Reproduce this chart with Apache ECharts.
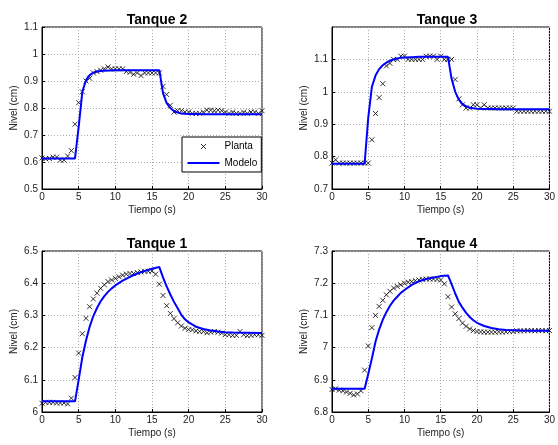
<!DOCTYPE html>
<html>
<head>
<meta charset="utf-8">
<script src="https://cdn.jsdelivr.net/npm/echarts@6/dist/echarts.min.js"></script>
<style>html,body{margin:0;padding:0;background:#fff}#c{width:558px;height:445px}</style>
</head>
<body>
<div id="c"></div>
<script>
// Sample times of the plant measurements (s)
var tPlanta = [0,0.5,1,1.5,2,2.5,3,3.5,4,4.5,5,5.5,6,6.5,7,7.5,8,8.5,9,9.5,10,10.5,11,11.5,12,12.5,13,13.5,14,14.5,15,15.5,16,16.5,17,17.5,18,18.5,19,19.5,20,20.5,21,21.5,22,22.5,23,23.5,24,24.5,25,25.5,26,26.5,27,27.5,28,28.5,29,29.5,30];
// Times of the model curve points (s)
var tModelo = [0,4.5,5,5.5,6,6.5,7,7.5,8,8.5,9,9.5,10,11,12,13,14,15,16,16.5,17,17.5,18,18.5,19,19.5,20,21,22,23,24,25,26,28,30];

var planta2 = [0.615,0.612,0.613,0.618,0.618,0.607,0.607,0.622,0.642,0.74,0.82,0.86,0.90,0.91,0.93,0.935,0.94,0.945,0.952,0.945,0.945,0.945,0.945,0.935,0.932,0.925,0.93,0.92,0.93,0.93,0.93,0.93,0.93,0.88,0.85,0.81,0.785,0.79,0.79,0.785,0.785,0.78,0.78,0.78,0.785,0.792,0.792,0.79,0.792,0.79,0.785,0.78,0.785,0.78,0.78,0.785,0.78,0.785,0.785,0.78,0.79];
var modelo2 = [0.613,0.613,0.73,0.86,0.903,0.922,0.931,0.935,0.937,0.938,0.939,0.939,0.94,0.94,0.94,0.94,0.94,0.94,0.94,0.855,0.818,0.80,0.789,0.783,0.78,0.779,0.778,0.778,0.777,0.777,0.777,0.777,0.777,0.777,0.777];

var planta3 = [0.78,0.79,0.78,0.78,0.78,0.78,0.78,0.78,0.78,0.78,0.78,0.852,0.933,0.982,1.025,1.08,1.088,1.10,1.10,1.11,1.11,1.10,1.10,1.10,1.10,1.10,1.11,1.11,1.11,1.10,1.11,1.10,1.10,1.10,1.038,0.978,0.96,0.95,0.95,0.96,0.96,0.95,0.96,0.95,0.95,0.95,0.95,0.95,0.95,0.95,0.95,0.94,0.94,0.94,0.94,0.94,0.94,0.94,0.94,0.94,0.94];
var modelo3 = [0.778,0.778,0.92,1.015,1.05,1.07,1.082,1.09,1.096,1.10,1.103,1.105,1.106,1.107,1.108,1.108,1.108,1.108,1.108,1.04,1.0,0.976,0.962,0.955,0.951,0.949,0.948,0.947,0.947,0.946,0.946,0.946,0.946,0.946,0.946];

var planta1 = [6.027,6.03,6.03,6.03,6.028,6.028,6.028,6.025,6.043,6.107,6.183,6.243,6.291,6.327,6.351,6.369,6.384,6.395,6.405,6.41,6.415,6.42,6.425,6.428,6.43,6.43,6.433,6.435,6.437,6.437,6.438,6.428,6.397,6.362,6.33,6.306,6.29,6.277,6.267,6.26,6.256,6.255,6.252,6.25,6.25,6.246,6.248,6.25,6.248,6.245,6.24,6.24,6.238,6.238,6.25,6.24,6.237,6.238,6.24,6.24,6.238];
var modelo1 = [6.033,6.033,6.10,6.17,6.222,6.265,6.298,6.323,6.344,6.36,6.373,6.384,6.393,6.408,6.42,6.43,6.438,6.445,6.45,6.418,6.39,6.365,6.342,6.322,6.302,6.288,6.278,6.265,6.258,6.253,6.25,6.248,6.247,6.246,6.245];

var planta4 = [6.87,6.872,6.868,6.866,6.862,6.858,6.853,6.856,6.866,6.93,7.005,7.062,7.10,7.128,7.147,7.164,7.175,7.185,7.19,7.195,7.20,7.203,7.205,7.208,7.21,7.212,7.213,7.213,7.213,7.212,7.21,7.198,7.158,7.126,7.105,7.09,7.076,7.066,7.058,7.053,7.05,7.049,7.048,7.048,7.048,7.048,7.049,7.048,7.049,7.05,7.05,7.052,7.052,7.052,7.053,7.053,7.052,7.053,7.053,7.052,7.053];
var modelo4 = [6.872,6.872,6.918,6.966,7.018,7.056,7.086,7.11,7.13,7.146,7.158,7.17,7.179,7.195,7.206,7.213,7.218,7.222,7.224,7.197,7.168,7.142,7.124,7.108,7.095,7.085,7.077,7.067,7.061,7.057,7.055,7.054,7.053,7.052,7.052];

var titles = ['Tanque 2','Tanque 3','Tanque 1','Tanque 4'];
var yMin = [0.5, 0.7, 6.0, 6.8];
var yMax = [1.1, 1.2, 6.5, 7.3];
var xTicks = [0, 30, 5]; // min, max, interval
var plantas = [planta2, planta3, planta1, planta4];
var modelos = [modelo2, modelo3, modelo1, modelo4];

var FONT = 'Liberation Sans, Arial, Helvetica, sans-serif';
var grids = [
  {left:42, top:27, width:220, height:162},
  {left:332, top:27, width:220, height:162},
  {left:42, top:251, width:220, height:161},
  {left:332, top:251, width:220, height:161}
];
var titleTops = [8, 8, 232, 232];
var titleCenters = [152, 442, 152, 442];

function pairs(t, v){ var out=[]; for (var i=0;i<t.length;i++) out.push([t[i], v[i]]); return out; }

var crossPath = 'path://M0,0L10,10M10,0L0,10';
var legendCross = 'path://M0,0L0.01,0M32,10L32.01,10M13.5,2.5L18.5,7.5M18.5,2.5L13.5,7.5';
var legendLine = 'path://M0,4L32,4L32,6L0,6Z';

var option = {
  animation: false,
  backgroundColor: '#fff',
  textStyle: {fontFamily: FONT},
  title: titles.map(function(s,i){
    return {text:s, left: titleCenters[i], top: titleTops[i], textAlign:'center',
      textStyle:{fontFamily:FONT, fontSize:14, fontWeight:'bold', color:'#000'}};
  }),
  grid: grids.map(function(g){ return Object.assign({show:true, borderColor:'#000', borderWidth:1, backgroundColor:'#fff'}, g); }),
  xAxis: grids.map(function(g,i){
    return {type:'value', gridIndex:i, min:xTicks[0], max:xTicks[1], interval:xTicks[2],
      name:'Tiempo (s)', nameLocation:'middle', nameGap:16,
      nameTextStyle:{fontFamily:FONT, fontSize:10, color:'#222'},
      axisLine:{show:true, onZero:false, lineStyle:{color:'#000', width:1}},
      axisTick:{show:true, inside:true, length:3, lineStyle:{color:'#000'}},
      axisLabel:{fontFamily:FONT, fontSize:10, color:'#222', margin:3},
      splitLine:{show:true, lineStyle:{color:'#aaa', type:[1,2], width:1}}};
  }),
  yAxis: grids.map(function(g,i){
    return {type:'value', gridIndex:i, min:yMin[i], max:yMax[i], interval:0.1,
      name:'Nivel (cm)', nameLocation:'middle', nameGap:23,
      nameTextStyle:{fontFamily:FONT, fontSize:10, color:'#222'},
      axisLine:{show:true, onZero:false, lineStyle:{color:'#000', width:1}},
      axisTick:{show:true, inside:true, length:3, lineStyle:{color:'#000'}},
      axisLabel:{fontFamily:FONT, fontSize:10, color:'#222', margin:4, showMaxLabel: i!==1},
      splitLine:{show:true, lineStyle:{color:'#aaa', type:[1,2], width:1}}};
  }),
  legend: {
    orient:'vertical', left:182, top:137,
    backgroundColor:'#fff', borderColor:'#000', borderWidth:1, borderRadius:0,
    padding:[4,4,4,5], itemGap:6, itemWidth:32, itemHeight:10,
    textStyle:{fontFamily:FONT, fontSize:10, color:'#000'},
    data:[
      {name:'Planta', icon: legendCross, itemStyle:{color:'#000', borderColor:'#000', borderWidth:1}},
      {name:'Modelo', icon: legendLine, itemStyle:{color:'#0000ff', borderWidth:0}}
    ]
  },
  series: []
};

for (var i=0;i<4;i++){
  option.series.push({
    name:'Planta', type:'scatter', xAxisIndex:i, yAxisIndex:i,
    symbol: crossPath, symbolSize:5,
    itemStyle:{color:'#000', borderColor:'#000', borderWidth:1},
    data: pairs(tPlanta, plantas[i]), z:2
  });
  option.series.push({
    name:'Modelo', type:'line', xAxisIndex:i, yAxisIndex:i,
    symbol:'none', showSymbol:false,
    lineStyle:{color:'#0000ff', width:2}, itemStyle:{color:'#0000ff'},
    data: pairs(tModelo, modelos[i]), z:3
  });
}

var chart = echarts.init(document.getElementById('c'), null, {renderer:'canvas'});
chart.setOption(option);
</script>
</body>
</html>
